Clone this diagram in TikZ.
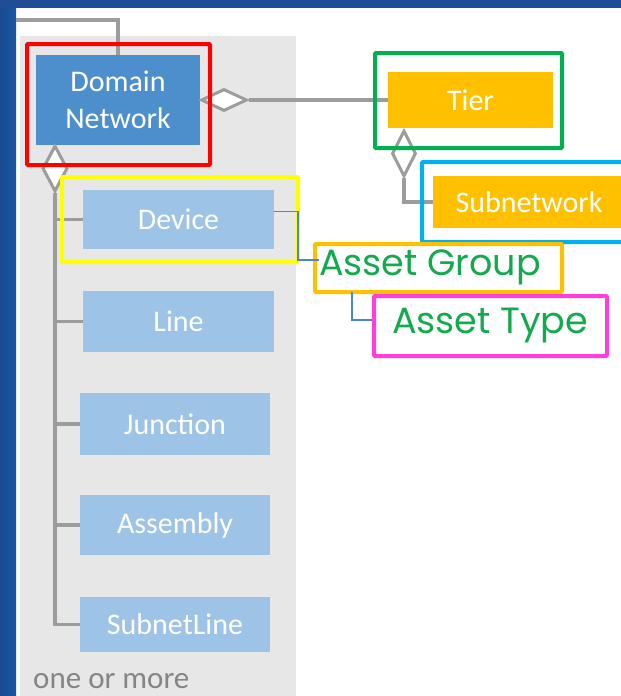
\documentclass[tikz,border=0pt]{standalone}
\usepackage{fontspec}
\setmainfont{Carlito}
\newfontfamily\gothic{Poppins}
\usetikzlibrary{shapes.geometric,calc}
\definecolor{frameblue}{HTML}{1A58A6}
\definecolor{frametop}{HTML}{1F4E96}
\definecolor{panelgray}{HTML}{E8E7E7}
\definecolor{linegray}{HTML}{9C9C9C}
\definecolor{dnblue}{HTML}{4D8ECD}
\definecolor{childblue}{HTML}{9DC3E6}
\definecolor{tierorange}{HTML}{FFC000}
\definecolor{mkred}{HTML}{FF0000}
\definecolor{mkgreen}{HTML}{00B050}
\definecolor{mkcyan}{HTML}{00B0F0}
\definecolor{mkyellow}{HTML}{FFFF00}
\definecolor{mkorange}{HTML}{FFC000}
\definecolor{mkpink}{HTML}{FF3FD8}
\definecolor{connblue}{HTML}{4A86D0}
\definecolor{txtgreen}{HTML}{12AA4C}
\begin{document}
\begin{tikzpicture}[x=1pt,y=-1pt,
  box/.style={rectangle,inner sep=0pt,text=white,font=\fontsize{30}{34}\selectfont,align=center},
  dnbox/.style={box,fill=dnblue},
  childbox/.style={box,fill=childblue},
  orbox/.style={box,fill=tierorange},
  dia/.style={diamond,draw=linegray,fill=white,line width=3pt,inner sep=0pt},
  gline/.style={draw=linegray,line width=3.2pt},
  hilite/.style={rectangle,draw,line width=4pt,inner sep=0pt,rounded corners=1pt},
  conn/.style={draw=connblue,line width=1.2pt},
  bigtxt/.style={text=txtgreen,font=\gothic\fontsize{36.5}{40}\selectfont,inner sep=0pt}
]
\useasboundingbox (0,0) rectangle (621,696);
\fill[white] (0,0) rectangle (621,696);
\shade[left color=frameblue!85!black, right color=frameblue] (0,0) rectangle (16,696);
\fill[frametop] (0,0) rectangle (621,8);
\fill[panelgray] (20,36) rectangle (296,696);

% main boxes
\node[dnbox,minimum width=164pt,minimum height=90pt] (dn) at (118,100) {Domain\\[3pt]Network};
\node[orbox,minimum width=165pt,minimum height=56pt] (tier) at (470.5,100) {Tier};
\node[orbox,minimum width=192pt,minimum height=52pt] (sub) at (529,202) {Subnetwork};
\node[childbox,minimum width=191pt,minimum height=59pt] (dev) at (178.5,219.5) {Device};
\node[childbox,minimum width=191pt,minimum height=61pt] (line) at (178.5,321.5) {Line};
\node[childbox,minimum width=190pt,minimum height=62pt] (junc) at (175,424) {Junction};
\node[childbox,minimum width=190pt,minimum height=60pt] (asm) at (175,525) {Assembly};
\node[childbox,minimum width=190pt,minimum height=55pt] (snl) at (175,624.5) {SubnetLine};

% diamonds
\node[dia,minimum width=46pt,minimum height=22pt] (d1) at (224,100) {};
\node[dia,minimum width=24pt,minimum height=46pt] (d2) at (404,153.5) {};
\node[dia,minimum width=25pt,minimum height=46pt] (d3) at (55,168.5) {};

% gray connectors
\coordinate (topin) at (16,20);
\draw[gline] (topin) -| (dn.north);
\draw[gline] (d1.east) -- (tier.west);
\draw[gline] (d2.south) |- (sub.west);
\draw[gline] (d3.south) |- (snl.west);
\foreach \n in {dev,line,junc,asm}{
  \draw[gline] (d3.south |- \n.west) -- (\n.west);
}

\node[anchor=west,text=linegray!85!black,font=\fontsize{31}{35}\selectfont,inner sep=0pt] (more) at (33,681) {one or more};

% annotation frames
\node[hilite,draw=mkred,minimum width=183pt,minimum height=121pt] (fred) at (118.5,104.5) {};
\node[hilite,draw=mkgreen,minimum width=187pt,minimum height=95pt] (fgreen) at (468.5,100.5) {};
\node[hilite,draw=mkcyan,minimum width=208pt,minimum height=80pt] (fcyan) at (526,202) {};
\node[hilite,draw=mkyellow,minimum width=236pt,minimum height=85pt] (fyellow) at (180,219.5) {};
\node[hilite,draw=mkorange,minimum width=247pt,minimum height=48pt] (ag) at (438.5,268) {};
\node[hilite,draw=mkpink,minimum width=233pt,minimum height=60pt] (at) at (490.5,326) {};
\node[bigtxt,anchor=base west] (agtxt) at (319,275) {Asset Group};
\node[bigtxt,anchor=base] (attxt) at (490,333) {Asset Type};

% blue connectors
\coordinate (c1) at (298,260);
\draw[conn] ([yshift=8pt]dev.east) -| (c1) -- (agtxt.west |- c1);
\coordinate (c2) at (352,292);
\draw[conn] (c2) |- (at.west |- 0,320);
\end{tikzpicture}
\end{document}
